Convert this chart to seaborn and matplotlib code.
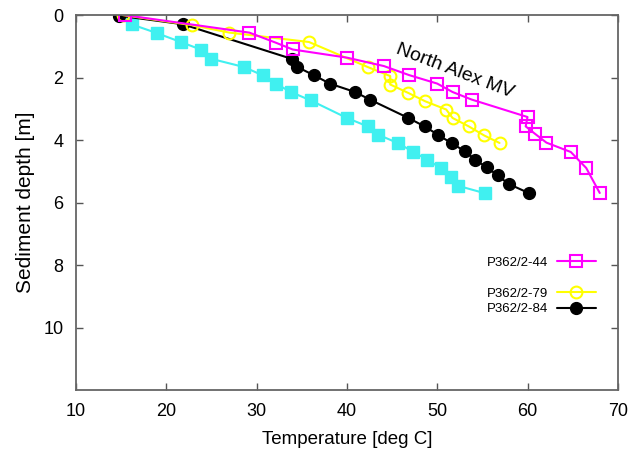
import matplotlib
matplotlib.use("Agg")
import matplotlib.pyplot as plt
import seaborn as sns
from matplotlib.lines import Line2D

# ---- data (temperature [deg C], depth [m]) ----
t_44 = [15.4, 29.2, 32.2, 34.0, 40.0, 44.1, 46.9, 50.0, 51.7, 53.8, 60.0, 59.8, 60.8, 62.1, 64.8, 66.5, 68.0]
d_44 = [0.0, 0.56, 0.89, 1.10, 1.36, 1.63, 1.92, 2.19, 2.46, 2.70, 3.26, 3.56, 3.79, 4.08, 4.38, 4.89, 5.69]

t_79 = [15.2, 22.8, 27.0, 35.8, 42.3, 44.8, 44.8, 46.8, 48.7, 51.0, 51.7, 53.5, 55.2, 56.9]
d_79 = [0.0, 0.32, 0.56, 0.86, 1.66, 1.95, 2.22, 2.49, 2.76, 3.02, 3.29, 3.56, 3.85, 4.09]

t_84 = [14.8, 21.8, 33.9, 34.5, 36.4, 38.1, 40.9, 42.6, 46.8, 48.6, 50.1, 51.6, 53.1, 54.2, 55.5, 56.7, 57.9, 60.2]
d_84 = [0.02, 0.29, 1.40, 1.66, 1.93, 2.19, 2.46, 2.71, 3.29, 3.56, 3.83, 4.10, 4.36, 4.63, 4.87, 5.13, 5.40, 5.70]

t_cy = [15.2, 16.2, 19.0, 21.6, 23.9, 25.0, 28.6, 30.7, 32.1, 33.8, 36.0, 40.0, 42.3, 43.5, 45.7, 47.3, 48.9, 50.4, 51.5, 52.3, 55.3]
d_cy = [0.0, 0.30, 0.58, 0.86, 1.11, 1.40, 1.66, 1.93, 2.19, 2.46, 2.73, 3.29, 3.56, 3.83, 4.10, 4.37, 4.62, 4.90, 5.17, 5.46, 5.70]

labels = ["P362/2-44", "P362/2-79", "P362/2-84"]
x_ticks = [10, 20, 30, 40, 50, 60, 70]
y_ticks = [0, 2, 4, 6, 8, 10]

sns.set_style("ticks")
plt.rcParams["font.family"] = ["Liberation Sans", "DejaVu Sans"]
plt.rcParams["text.color"] = "black"
plt.rcParams["axes.labelcolor"] = "black"
plt.rcParams["xtick.labelcolor"] = "black"
plt.rcParams["ytick.labelcolor"] = "black"

fig = plt.figure(figsize=(6.33, 4.58), dpi=100)
ax = fig.add_axes([0.120, 0.148, 0.856, 0.819])

MAG, YEL, CYA = "#ff00ff", "#ffff00", "#40f0f0"

sns.lineplot(x=t_cy, y=d_cy, sort=False, estimator=None, ax=ax, color=CYA,
             marker="s", markersize=8, markerfacecolor=CYA, markeredgecolor=CYA,
             markeredgewidth=1, linewidth=1.5)
sns.lineplot(x=t_84, y=d_84, sort=False, estimator=None, ax=ax, color="black",
             marker="o", markersize=8.5, markerfacecolor="black", markeredgecolor="black",
             markeredgewidth=1, linewidth=1.5)
sns.lineplot(x=t_79, y=d_79, sort=False, estimator=None, ax=ax, color=YEL,
             marker="o", markersize=8.5, markerfacecolor="none", markeredgecolor=YEL,
             markeredgewidth=1.5, linewidth=1.5)
sns.lineplot(x=t_44, y=d_44, sort=False, estimator=None, ax=ax, color=MAG,
             marker="s", markersize=9, markerfacecolor="none", markeredgecolor=MAG,
             markeredgewidth=1.5, linewidth=1.5)

ax.set_xlim(10, 70)
ax.set_ylim(12, 0)
ax.set_xticks(x_ticks)
ax.set_yticks(y_ticks)
ax.tick_params(direction="in", top=True, right=True, length=5, width=1,
               color="#555555", labelsize=13, pad=9, labelcolor="black")
for s in ax.spines.values():
    s.set_color("#666666")
    s.set_linewidth(1.3)

ax.set_xlabel("Temperature [deg C]", fontsize=13.5, labelpad=8, color="black")
ax.set_ylabel("Sediment depth [m]", fontsize=15, labelpad=6, color="black")

ax.text(52, 1.8, "North Alex MV", rotation=-21, ha="center", va="center",
        rotation_mode="anchor", fontsize=14, color="black")

h44 = Line2D([], [], color=MAG, marker="s", markersize=9, markerfacecolor="none",
             markeredgecolor=MAG, markeredgewidth=1.5, linewidth=1.5)
h79 = Line2D([], [], color=YEL, marker="o", markersize=8.5, markerfacecolor="none",
             markeredgecolor=YEL, markeredgewidth=1.5, linewidth=1.5)
h84 = Line2D([], [], color="black", marker="o", markersize=8.5, linewidth=1.5)
blank = Line2D([], [], linestyle="none", marker="none")
leg = ax.legend([h44, blank, h79, h84], [labels[0], " ", labels[1], labels[2]],
                loc="upper right", bbox_to_anchor=(0.959, 0.357), frameon=False,
                markerfirst=False, fontsize=9.5, handlelength=2.9, handletextpad=0.7,
                borderpad=0, borderaxespad=0, labelspacing=0.25, numpoints=1)
for t in leg.get_texts():
    t.set_color("black")

fig.savefig("out.png", dpi=100)
